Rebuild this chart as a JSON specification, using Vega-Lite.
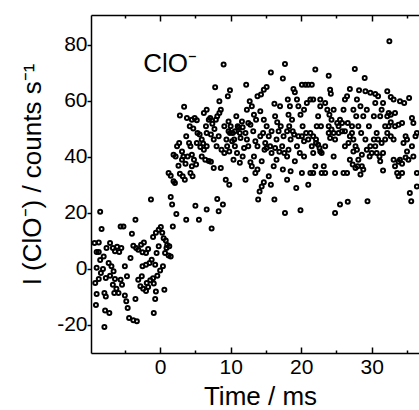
{
"$schema": "https://vega.github.io/schema/vega-lite/v6.json",
"width": 328, "height": 338,
"autosize": {"type": "none"},
"padding": {"left": 91, "top": 15, "right": 0, "bottom": 57},
"background": "white",
"config": {"view": {"stroke": null}, "font": "Liberation Sans"},
"layer": [
{"data": {"values": [
{"t":-8.5,"v":20.4},{"t":-8.3,"v":14.3},{"t":-9.3,"v":9.3},{"t":-8.7,"v":9.5},{"t":-9.0,"v":6.1},{"t":-8.7,"v":6.1},{"t":-8.5,"v":3.2},{"t":-9.0,"v":0.4},{"t":-8.4,"v":-1.4},{"t":-9.2,"v":-5},{"t":-8.7,"v":-3.6},{"t":-9.0,"v":-8.9},{"t":-9.1,"v":-12.9},{"t":-7.9,"v":-8.6},{"t":-7.7,"v":-9.8},{"t":-7.8,"v":-14.8},{"t":-7.2,"v":-15.7},{"t":-7.9,"v":-20.7},{"t":-8.1,"v":0},{"t":-8.0,"v":4.5},{"t":-7.6,"v":7.5},{"t":-7.1,"v":9.3},{"t":-6.7,"v":7.5},{"t":-6.4,"v":6.3},{"t":-6.1,"v":7.9},{"t":-5.8,"v":6.1},{"t":-5.5,"v":7.5},{"t":-7.3,"v":2.1},{"t":-6.9,"v":1},{"t":-6.6,"v":-0.8},{"t":-7.1,"v":-2.4},{"t":-6.4,"v":-3.6},{"t":-6.7,"v":-5.6},{"t":-6.2,"v":-7.1},{"t":-6.5,"v":-8.6},{"t":-5.9,"v":-8.6},{"t":-5.6,"v":-3.8},{"t":-5.4,"v":-5.6},{"t":-5.6,"v":15.2},{"t":-5.2,"v":15.2},{"t":-5.0,"v":1},{"t":-4.7,"v":-2.6},{"t":-5.0,"v":-9.5},{"t":-4.8,"v":-11.5},{"t":-4.6,"v":-13.9},{"t":-4.4,"v":-17.5},{"t":-3.8,"v":-18.3},{"t":-3.3,"v":-18.7},{"t":-3.5,"v":17.6},{"t":-4.0,"v":12.6},{"t":-3.8,"v":8.3},{"t":-3.4,"v":7.5},{"t":-3.1,"v":6.9},{"t":-2.7,"v":8.7},{"t":-2.3,"v":9.5},{"t":-2.5,"v":6},{"t":-2.0,"v":5.7},{"t":-1.7,"v":7.1},{"t":-4.2,"v":3.9},{"t":-3.5,"v":-10.7},{"t":-3.1,"v":-3.8},{"t":-2.6,"v":-2.6},{"t":-2.8,"v":-6.2},{"t":-2.4,"v":-7.1},{"t":-2.0,"v":-7.9},{"t":-1.7,"v":-6.4},{"t":-1.4,"v":-4},{"t":-1.0,"v":-3.3},{"t":-1.9,"v":-5},{"t":-0.9,"v":-5.2},{"t":-0.6,"v":-8},{"t":-0.7,"v":-10.7},{"t":-0.9,"v":-15.7},{"t":-2.5,"v":1},{"t":-2.0,"v":1.5},{"t":-1.5,"v":2.1},{"t":-1.2,"v":3.3},{"t":-0.7,"v":1.5},{"t":-1.3,"v":24.8},{"t":-1.0,"v":11.4},{"t":-0.6,"v":12.9},{"t":-0.2,"v":14},{"t":0.1,"v":15},{"t":0.3,"v":12.9},{"t":0.5,"v":11},{"t":0.8,"v":10.2},{"t":1.0,"v":8.6},{"t":1.3,"v":8.1},{"t":0.9,"v":7.5},{"t":0.7,"v":5.7},{"t":1.2,"v":4.8},{"t":1.5,"v":4.5},{"t":0.4,"v":1},{"t":0,"v":-0.5},{"t":-0.4,"v":-2.4},{"t":0.6,"v":-7.4},{"t":-0.5,"v":5.7},{"t":-0.2,"v":8.1},{"t":-7.7,"v":-3.2},
{"t":1.2,"v":34.3},{"t":1.5,"v":33.3},{"t":1.9,"v":31.3},{"t":2.1,"v":30.7},{"t":1.5,"v":25.7},{"t":1.7,"v":23},{"t":1.8,"v":15.2},{"t":2.3,"v":19.6},{"t":1.9,"v":40.8},{"t":2.2,"v":40.2},{"t":2.4,"v":43.8},{"t":2.7,"v":45},{"t":3.1,"v":42},{"t":3.3,"v":40.2},{"t":3.1,"v":39},{"t":3.6,"v":37.6},{"t":2.6,"v":36.9},{"t":2.8,"v":34},{"t":3.2,"v":33.1},{"t":3.5,"v":31.9},{"t":3.9,"v":40.2},{"t":4.1,"v":45},{"t":3.7,"v":47.4},{"t":4.3,"v":43.8},{"t":4.5,"v":40.8},{"t":4.8,"v":39},{"t":5.1,"v":37.3},{"t":4.5,"v":36.7},{"t":4.3,"v":34.3},{"t":4.6,"v":33.1},{"t":2.8,"v":54.8},{"t":3.4,"v":57.9},{"t":3.8,"v":53.9},{"t":4.2,"v":51},{"t":4.5,"v":53.3},{"t":4.9,"v":53.9},{"t":5.2,"v":53.1},{"t":4.7,"v":50.2},{"t":3.7,"v":17.6},{"t":5.0,"v":22.6},{"t":5.5,"v":17.6},
{"t":5.3,"v":48.6},{"t":5.6,"v":48},{"t":5.9,"v":46.2},{"t":6.1,"v":44.8},{"t":5.7,"v":43.6},{"t":6.2,"v":42.6},{"t":5.9,"v":40.2},{"t":6.6,"v":43.8},{"t":6.4,"v":39},{"t":6.9,"v":38.6},{"t":7.2,"v":38.3},{"t":6.2,"v":55.7},{"t":6.6,"v":56.9},{"t":6.9,"v":53.3},{"t":6.5,"v":51},{"t":7.1,"v":53.9},{"t":7.4,"v":51.9},{"t":7.7,"v":50},{"t":7.9,"v":53.3},{"t":8.1,"v":54.5},{"t":8.4,"v":55.7},{"t":8.6,"v":56.9},{"t":8.4,"v":59.9},{"t":7.8,"v":64.9},{"t":9.0,"v":73},{"t":9.6,"v":61.7},{"t":9.9,"v":63.8},{"t":6.6,"v":21.2},{"t":7.3,"v":14.5},{"t":8.1,"v":25},{"t":8.3,"v":20.6},{"t":8.9,"v":23},{"t":7.6,"v":36.1},{"t":8.6,"v":36.1},{"t":9.3,"v":31.9},{"t":9.8,"v":30.1},{"t":8.7,"v":42.6},{"t":9.1,"v":41.4},{"t":9.5,"v":43.8},{"t":9.8,"v":42},{"t":9.4,"v":46.2},{"t":9.7,"v":49.2},{"t":9.1,"v":51},{"t":9.7,"v":52.7},{"t":10.0,"v":51},{"t":7.6,"v":46.2},{"t":8.0,"v":43.8},{"t":8.3,"v":47.4},{"t":7.2,"v":48},
{"t":10.3,"v":48.6},{"t":10.5,"v":46.2},{"t":10.6,"v":43.8},{"t":10.9,"v":41.4},{"t":11.0,"v":51},{"t":11.3,"v":48.6},{"t":11.4,"v":46.8},{"t":11.7,"v":50.6},{"t":12.1,"v":48.6},{"t":12.3,"v":46.2},{"t":12.5,"v":43.8},{"t":11.3,"v":37.9},{"t":11.7,"v":40.2},{"t":12.1,"v":31.9},{"t":12.8,"v":38.1},{"t":13.0,"v":36.7},{"t":13.3,"v":40.2},{"t":12.2,"v":65.8},{"t":12.3,"v":56.9},{"t":12.7,"v":59.9},{"t":13.0,"v":58.1},{"t":13.3,"v":55.1},{"t":13.6,"v":53.3},{"t":12.5,"v":52.1},{"t":12.8,"v":51.5},{"t":13.8,"v":61.7},{"t":14.3,"v":62.3},{"t":14.7,"v":64},{"t":15.1,"v":65},{"t":15.7,"v":70.2},{"t":13.9,"v":24.8},{"t":14.1,"v":27.7},{"t":14.4,"v":29.5},{"t":14.7,"v":31},{"t":13.5,"v":34.3},{"t":13.8,"v":35.5},{"t":14.4,"v":38.5},{"t":14.8,"v":42.6},{"t":14.2,"v":47.4},{"t":14.6,"v":48.6},{"t":14.9,"v":45},{"t":13.8,"v":43.8},{"t":10.4,"v":39},{"t":10.8,"v":54.5},{"t":9.9,"v":48.6},{"t":10.2,"v":45.6},
{"t":15.4,"v":47.4},{"t":15.6,"v":43.8},{"t":15.1,"v":43.2},{"t":15.8,"v":41.4},{"t":15.4,"v":33.1},{"t":15.7,"v":30.1},{"t":16.2,"v":24.8},{"t":16.1,"v":36.7},{"t":16.5,"v":39},{"t":16.5,"v":46.2},{"t":16.8,"v":49.2},{"t":16.3,"v":54.5},{"t":16.2,"v":59},{"t":16.6,"v":52.4},{"t":17.1,"v":51},{"t":17.4,"v":68},{"t":17.7,"v":73.2},{"t":17.3,"v":43.8},{"t":17.6,"v":41.4},{"t":18.0,"v":40.2},{"t":18.2,"v":42.6},{"t":18.5,"v":46.2},{"t":18.3,"v":51},{"t":18.8,"v":49.2},{"t":19.0,"v":48},{"t":17.7,"v":20},{"t":18.0,"v":31.9},{"t":17.4,"v":35.5},{"t":18.5,"v":34.9},{"t":19.3,"v":28.9},{"t":19.9,"v":21},{"t":18.9,"v":64.3},{"t":19.1,"v":63.1},{"t":19.4,"v":60.5},{"t":19.6,"v":58.1},{"t":19.9,"v":55.1},{"t":20.1,"v":65.8},{"t":19.4,"v":43.8},{"t":19.8,"v":41.4},{"t":19.1,"v":38.5},{"t":19.6,"v":47.4},{"t":18.1,"v":60.5},{"t":18.4,"v":58.1},
{"t":20.6,"v":65.8},{"t":21.0,"v":65.8},{"t":21.5,"v":65.8},{"t":22.0,"v":71.2},{"t":21.3,"v":60.5},{"t":20.8,"v":59.3},{"t":20.4,"v":56.9},{"t":20.2,"v":51},{"t":20.7,"v":48.6},{"t":21.0,"v":46.2},{"t":21.5,"v":43.8},{"t":21.7,"v":41.4},{"t":22.1,"v":45},{"t":22.4,"v":54.5},{"t":22.7,"v":58.1},{"t":22.2,"v":51},{"t":22.8,"v":51},{"t":22.6,"v":43.2},{"t":22.9,"v":41.4},{"t":23.2,"v":36.7},{"t":22.9,"v":34.3},{"t":23.4,"v":34.3},{"t":20.1,"v":34.3},{"t":20.4,"v":40.2},{"t":21.3,"v":34.3},{"t":21.0,"v":30.1},{"t":22.0,"v":36.7},{"t":23.9,"v":69},{"t":24.1,"v":64},{"t":24.2,"v":62.6},{"t":23.7,"v":56.9},{"t":24.0,"v":55.1},{"t":24.3,"v":53.3},{"t":23.9,"v":51},{"t":24.6,"v":48.6},{"t":24.8,"v":46.2},{"t":24.1,"v":46.8},{"t":23.4,"v":43.8},{"t":24.6,"v":40.2},{"t":24.8,"v":20},{"t":25.5,"v":23},{"t":24.8,"v":34.3},{"t":25.1,"v":52.1},{"t":23.4,"v":59.3},
{"t":25.3,"v":48.6},{"t":25.5,"v":53.3},{"t":25.8,"v":52.1},{"t":26.0,"v":56.9},{"t":26.2,"v":60.5},{"t":26.5,"v":61.7},{"t":26.9,"v":64.3},{"t":26.6,"v":24},{"t":26.0,"v":34.3},{"t":26.5,"v":34.3},{"t":26.2,"v":43.8},{"t":26.7,"v":45},{"t":26.9,"v":47.4},{"t":27.2,"v":51},{"t":27.6,"v":71.4},{"t":27.4,"v":56.9},{"t":27.8,"v":54.5},{"t":28.1,"v":51},{"t":28.5,"v":48.6},{"t":26.9,"v":39},{"t":27.3,"v":37.3},{"t":27.7,"v":36.1},{"t":28.0,"v":36.7},{"t":28.4,"v":33.7},{"t":28.8,"v":35.5},{"t":28.2,"v":63.8},{"t":29.0,"v":68.2},{"t":29.1,"v":63.5},{"t":29.8,"v":62.9},{"t":29.3,"v":56.9},{"t":28.8,"v":54.5},{"t":29.6,"v":51},{"t":29.1,"v":46.2},{"t":29.3,"v":42.6},{"t":29.7,"v":40.2},{"t":29.4,"v":24.2},{"t":30.0,"v":41.4},{"t":28.6,"v":40.8},{"t":27.9,"v":42.6},
{"t":30.5,"v":62.5},{"t":30.9,"v":61.7},{"t":30.5,"v":59.3},{"t":31.2,"v":54.5},{"t":30.7,"v":48.6},{"t":30.9,"v":46.2},{"t":30.5,"v":43.8},{"t":31.4,"v":45},{"t":31.6,"v":41.4},{"t":31.6,"v":35.2},{"t":31.1,"v":40.2},{"t":31.9,"v":51},{"t":32.2,"v":54.5},{"t":32.4,"v":55.7},{"t":32.7,"v":55.1},{"t":32.2,"v":63.5},{"t":32.7,"v":61.4},{"t":32.5,"v":81.3},{"t":32.4,"v":51},{"t":32.7,"v":47.4},{"t":33.1,"v":39},{"t":33.3,"v":36.7},{"t":33.6,"v":34.3},{"t":33.8,"v":33.1},{"t":34.0,"v":39},{"t":33.3,"v":51},{"t":33.8,"v":51.5},{"t":34.3,"v":52.1},{"t":34.5,"v":45},{"t":34.8,"v":47.4},{"t":35.0,"v":42},{"t":35.2,"v":39},{"t":34.6,"v":59.3},{"t":35.3,"v":61.1},{"t":35.7,"v":53.9},{"t":35.9,"v":52.1},{"t":36.2,"v":47.4},{"t":36.4,"v":34.3},{"t":35.4,"v":27.1},{"t":35.6,"v":24.2},{"t":36.4,"v":29.5},{"t":34.3,"v":34.3},{"t":33.1,"v":46.2},
{"t":11.1,"v":50.4},{"t":10.6,"v":49.2},{"t":11.6,"v":52.7},{"t":11.9,"v":43.2},{"t":13.2,"v":49.2},{"t":13.5,"v":45.6},{"t":15.1,"v":51},{"t":15.8,"v":49.2},{"t":16.3,"v":43.2},{"t":16.9,"v":41.9},{"t":17.5,"v":47.4},{"t":18.0,"v":49.2},{"t":18.2,"v":55.1},{"t":18.7,"v":53.3},{"t":20.1,"v":47.4},{"t":20.4,"v":45.6},{"t":21.3,"v":48.6},{"t":21.7,"v":47.4},{"t":22.1,"v":46.2},{"t":22.4,"v":44.4},{"t":22.7,"v":42},{"t":21.7,"v":34.3},{"t":23.9,"v":48.6},{"t":24.3,"v":49.8},{"t":25.3,"v":51},{"t":25.8,"v":49.2},{"t":26.2,"v":49.2},{"t":26.6,"v":52.1},{"t":27.2,"v":48.6},{"t":27.4,"v":46.2},{"t":27.7,"v":43.8},{"t":28.1,"v":39},{"t":28.6,"v":36.7},{"t":27.4,"v":42},{"t":29.8,"v":43.8},{"t":30.3,"v":46.2},{"t":30.7,"v":41.4},{"t":31.2,"v":38.5},{"t":31.9,"v":46.2},{"t":32.2,"v":48.6},{"t":32.7,"v":52.4},{"t":33.3,"v":55.7},{"t":33.8,"v":38.3},{"t":34.3,"v":37.6},{"t":34.8,"v":39.8},{"t":35.0,"v":46.2},{"t":35.7,"v":43.8},{"t":35.9,"v":40.2},{"t":36.4,"v":48.6},{"t":34.0,"v":59.9},{"t":33.1,"v":60.5},{"t":31.4,"v":56.9},{"t":31.6,"v":59.3},{"t":30.3,"v":54.5},{"t":27.9,"v":60.5},{"t":28.4,"v":58.1},{"t":24.6,"v":56.9},{"t":22.7,"v":60.5},{"t":21.7,"v":60.5},{"t":17.0,"v":58.1},{"t":14.7,"v":53.3},{"t":14.2,"v":56.3},{"t":6.6,"v":48.6},{"t":5.2,"v":45}
]},
"mark": {"type": "point", "shape": "circle", "filled": false, "size": 16, "strokeWidth": 2, "color": "black", "opacity": 1, "clip": true},
"encoding": {
"x": {"field": "t", "type": "quantitative", "scale": {"domain": [-9.8, 36.7], "nice": false, "zero": false},
 "axis": {"orient": "bottom", "values": [-5,0,5,10,15,20,25,30,35], "labelExpr": "datum.value % 10 === 0 ? '' + datum.value : ''",
  "tickSize": {"condition": {"test": "datum.value % 10 === 0", "value": -6}, "value": -3},
  "tickColor": "black", "tickWidth": 1.5, "domainColor": "black", "domainWidth": 1.5, "grid": false,
  "labelFontSize": 21, "labelColor": "black", "labelPadding": 9, "labelFont": "Liberation Sans",
  "title": "Time / ms", "titleFontSize": 26, "titleFontWeight": "normal", "titleColor": "black", "titleFont": "Liberation Sans",
  "titleX": 169, "titleY": 51, "titleBaseline": "alphabetic", "titleAlign": "center"}},
"y": {"field": "v", "type": "quantitative", "scale": {"domain": [-30, 90.7], "nice": false, "zero": false},
 "axis": {"orient": "left", "values": [-20,0,20,40,60,80], "labelExpr": "'' + datum.value", "tickSize": 4, "tickWidth": 1.5, "tickColor": "black",
  "domainColor": "black", "domainWidth": 1.5, "grid": false, "labelFontSize": 21, "labelColor": "black", "labelPadding": 0, "labelFont": "Liberation Sans",
  "title": "I (ClO⁻) / counts s⁻¹", "titleFontSize": 26, "titleFontWeight": "normal", "titleColor": "black", "titleFont": "Liberation Sans",
  "titleX": -59, "titleY": 159, "titleBaseline": "middle", "titleAlign": "center", "titleAngle": 270}}
}},
{"data": {"values": [{"t": -2.4, "v": 70.4, "label": "ClO⁻"}]},
"mark": {"type": "text", "align": "left", "baseline": "alphabetic", "fontSize": 26, "font": "Liberation Sans", "color": "black"},
"encoding": {
"x": {"field": "t", "type": "quantitative",
 "axis": {"orient": "top", "values": [-5,0,5,10,15,20,25,30,35], "labels": false, "title": null, "grid": false,
  "tickSize": {"condition": {"test": "datum.value % 10 === 0", "value": -6}, "value": -3},
  "tickColor": "black", "tickWidth": 1.5, "domainColor": "black", "domainWidth": 1.5}},
"y": {"field": "v", "type": "quantitative"},
"text": {"field": "label"}
}}
],
"resolve": {"axis": {"x": "independent"}}
}
